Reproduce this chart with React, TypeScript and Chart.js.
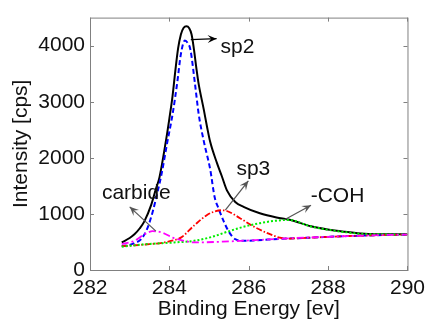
import React, { useEffect, useRef } from "react";
import { Chart, registerables } from "chart.js";

Chart.register(...registerables);

// ---- data ----
const xTotal = [282.8, 283.0, 283.12, 283.25, 283.37, 283.54, 283.66, 283.75, 283.91, 284.0, 284.08, 284.15, 284.22, 284.29, 284.36, 284.43, 284.5, 284.56, 284.62, 284.68, 284.73, 284.87, 284.95, 285.03, 285.2, 285.32, 285.45, 285.66, 285.87, 286.28, 286.7, 287.03, 287.57, 287.99, 288.4, 288.82, 289.23, 290];
const yTotal = [491, 570, 636, 740, 867, 1156, 1444, 1650, 2288, 2700, 3100, 3550, 3950, 4200, 4320, 4345, 4310, 4200, 3929, 3600, 3350, 2850, 2550, 2280, 1906, 1676, 1420, 1213, 1127, 1011, 936, 896, 780, 722, 682, 650, 638, 636];

const xSp2 = [282.8, 282.96, 283.12, 283.29, 283.45, 283.58, 283.7, 283.8, 283.95, 284.08, 284.2, 284.29, 284.39, 284.46, 284.53, 284.64, 284.74, 284.87, 285.03, 285.14, 285.24, 285.37, 285.49, 285.66, 285.87, 286.2, 286.8, 287.5, 288.5, 289.5, 290];
const ySp2 = [430, 440, 480, 549, 751, 1040, 1387, 1700, 2288, 2773, 3350, 3850, 4090, 4050, 3929, 3350, 2773, 2288, 1790, 1300, 1097, 867, 693, 549, 520, 530, 555, 575, 605, 625, 630];

const xCarbide = [282.8, 283.12, 283.37, 283.58, 283.83, 284.08, 284.37, 284.62, 285.5, 286.5, 287.0, 287.5, 288.5, 289.5, 290];
const yCarbide = [462, 520, 636, 693, 664, 577, 520, 491, 510, 545, 565, 580, 605, 625, 630];

const xSp3 = [282.8, 283.4, 283.87, 284.04, 284.29, 284.62, 284.95, 285.15, 285.3, 285.45, 285.78, 286.11, 286.45, 286.78, 287.03, 287.5, 288.5, 289.5, 290];
const ySp3 = [425, 455, 491, 520, 577, 790, 982, 1045, 1065, 1052, 924, 780, 664, 577, 560, 575, 605, 625, 632];

const xCoh = [282.8, 283.45, 284.12, 284.62, 285.07, 285.45, 285.87, 286.28, 286.7, 287.0, 287.57, 287.99, 288.4, 288.82, 289.23, 290];
const yCoh = [416, 462, 491, 520, 590, 680, 770, 835, 880, 893, 775, 718, 678, 645, 636, 634];

const xTicks = [282, 284, 286, 288, 290];
const yTicks = [0, 1000, 2000, 3000, 4000];

// annotation labels
const labelTexts = ["sp2", "carbide", "sp3", "-COH"];
const labelPos = [[285.29, 3865], [282.3, 1265], [285.69, 1698], [287.56, 1213]];
const arrowFrom = [[284.54, 4107], [283.66, 693], [285.41, 1069], [286.9, 896]];
const arrowTo = [[285.19, 4125], [283.0, 1126], [285.99, 1589], [287.57, 1156]];
const arrowColors = ["#000000", "#555555", "#555555", "#555555"];

const FONT = "'Liberation Sans', Arial, Helvetica, sans-serif";

const pts = (xs: number[], ys: number[]) => xs.map((x, i) => ({ x, y: ys[i] }));

const boxPlugin = {
  id: "boxAndNotes",
  afterDatasetsDraw(chart: any) {
    const { ctx, chartArea, scales } = chart;
    const xs = scales.x;
    const ys = scales.y;
    const { left, right, top, bottom } = chartArea;
    ctx.save();
    ctx.strokeStyle = "#808080";
    ctx.lineWidth = 1;
    ctx.strokeRect(left + 0.5, top + 0.5, right - left, bottom - top);
    ctx.beginPath();
    xTicks.forEach((t) => {
      const px = Math.round(xs.getPixelForValue(t)) + 0.5;
      ctx.moveTo(px, bottom);
      ctx.lineTo(px, bottom - 4);
      ctx.moveTo(px, top);
      ctx.lineTo(px, top + 4);
    });
    yTicks.forEach((t) => {
      const py = Math.round(ys.getPixelForValue(t)) + 0.5;
      ctx.moveTo(left, py);
      ctx.lineTo(left + 4, py);
      ctx.moveTo(right, py);
      ctx.lineTo(right - 4, py);
    });
    ctx.stroke();

    labelTexts.forEach((_, i) => {
      const x0 = xs.getPixelForValue(arrowFrom[i][0]);
      const y0 = ys.getPixelForValue(arrowFrom[i][1]);
      const x1 = xs.getPixelForValue(arrowTo[i][0]);
      const y1 = ys.getPixelForValue(arrowTo[i][1]);
      ctx.strokeStyle = arrowColors[i];
      ctx.fillStyle = arrowColors[i];
      ctx.lineWidth = 1.2;
      ctx.beginPath();
      ctx.moveTo(x0, y0);
      ctx.lineTo(x1, y1);
      ctx.stroke();
      const a = Math.atan2(y1 - y0, x1 - x0);
      const L = 9, W = 4;
      ctx.beginPath();
      ctx.moveTo(x1, y1);
      ctx.lineTo(x1 - L * Math.cos(a) + W * Math.sin(a), y1 - L * Math.sin(a) - W * Math.cos(a));
      ctx.lineTo(x1 - L * 0.6 * Math.cos(a), y1 - L * 0.6 * Math.sin(a));
      ctx.lineTo(x1 - L * Math.cos(a) - W * Math.sin(a), y1 - L * Math.sin(a) + W * Math.cos(a));
      ctx.closePath();
      ctx.fill();
    });

    ctx.fillStyle = "#111111";
    ctx.font = `21px ${FONT}`;
    ctx.textAlign = "left";
    ctx.textBaseline = "alphabetic";
    labelTexts.forEach((t, i) => {
      ctx.fillText(t, xs.getPixelForValue(labelPos[i][0]), ys.getPixelForValue(labelPos[i][1]));
    });
    ctx.restore();
  },
};

export default function App() {
  const ref = useRef<HTMLCanvasElement | null>(null);
  useEffect(() => {
    if (!ref.current) return;
    const chart = new Chart(ref.current, {
      type: "line",
      data: {
        datasets: [
          { label: "carbide", data: pts(xCarbide, yCarbide), borderColor: "#ff00ff", borderWidth: 1.8, borderDash: [7, 3, 2, 3] },
          { label: "-COH", data: pts(xCoh, yCoh), borderColor: "#00ee00", borderWidth: 2, borderDash: [2, 2] },
          { label: "sp3", data: pts(xSp3, ySp3), borderColor: "#ff0000", borderWidth: 1.8, borderDash: [6, 2, 1.5, 2] },
          { label: "sp2", data: pts(xSp2, ySp2), borderColor: "#0000ff", borderWidth: 2, borderDash: [5, 3] },
          { label: "total", data: pts(xTotal, yTotal), borderColor: "#000000", borderWidth: 2 },
        ].map((d) => ({ ...d, pointRadius: 0, fill: false, tension: 0.4, cubicInterpolationMode: "monotone" as const })),
      },
      options: {
        animation: false,
        responsive: true,
        maintainAspectRatio: false,
        layout: { padding: { top: 10, right: 20, left: 0, bottom: 0 } },
        plugins: { legend: { display: false }, tooltip: { enabled: false } },
        scales: {
          x: {
            type: "linear",
            min: 282,
            max: 290,
            grid: { display: false, drawTicks: false },
            border: { display: false },
            ticks: { padding: 6, color: "#111", font: { family: FONT, size: 21 }, maxRotation: 0, callback: (v: any) => String(v) },
            afterBuildTicks: (s: any) => { s.ticks = xTicks.map((v) => ({ value: v })); },
            title: { display: true, text: "Binding Energy [ev]", color: "#111", font: { family: FONT, size: 21 }, padding: { top: 0, bottom: -2 } },
            afterFit: (s: any) => { s.height = 50; },
          },
          y: {
            type: "linear",
            min: 0,
            max: 4500,
            grid: { display: false, drawTicks: false },
            border: { display: false },
            ticks: { padding: 5, color: "#111", font: { family: FONT, size: 21 }, callback: (v: any) => String(v) },
            afterBuildTicks: (s: any) => { s.ticks = yTicks.map((v) => ({ value: v })); },
            title: { display: true, text: "Intensity [cps]", color: "#111", font: { family: FONT, size: 21 }, padding: { top: 9, bottom: 0 } },
            afterFit: (s: any) => { s.width = 90; },
          },
        },
      },
      plugins: [boxPlugin],
    });
    return () => chart.destroy();
  }, []);
  return (
    <div style={{ position: "absolute", left: 0, top: 0, width: 431, height: 320, background: "#fff" }}>
      <canvas ref={ref} />
    </div>
  );
}
